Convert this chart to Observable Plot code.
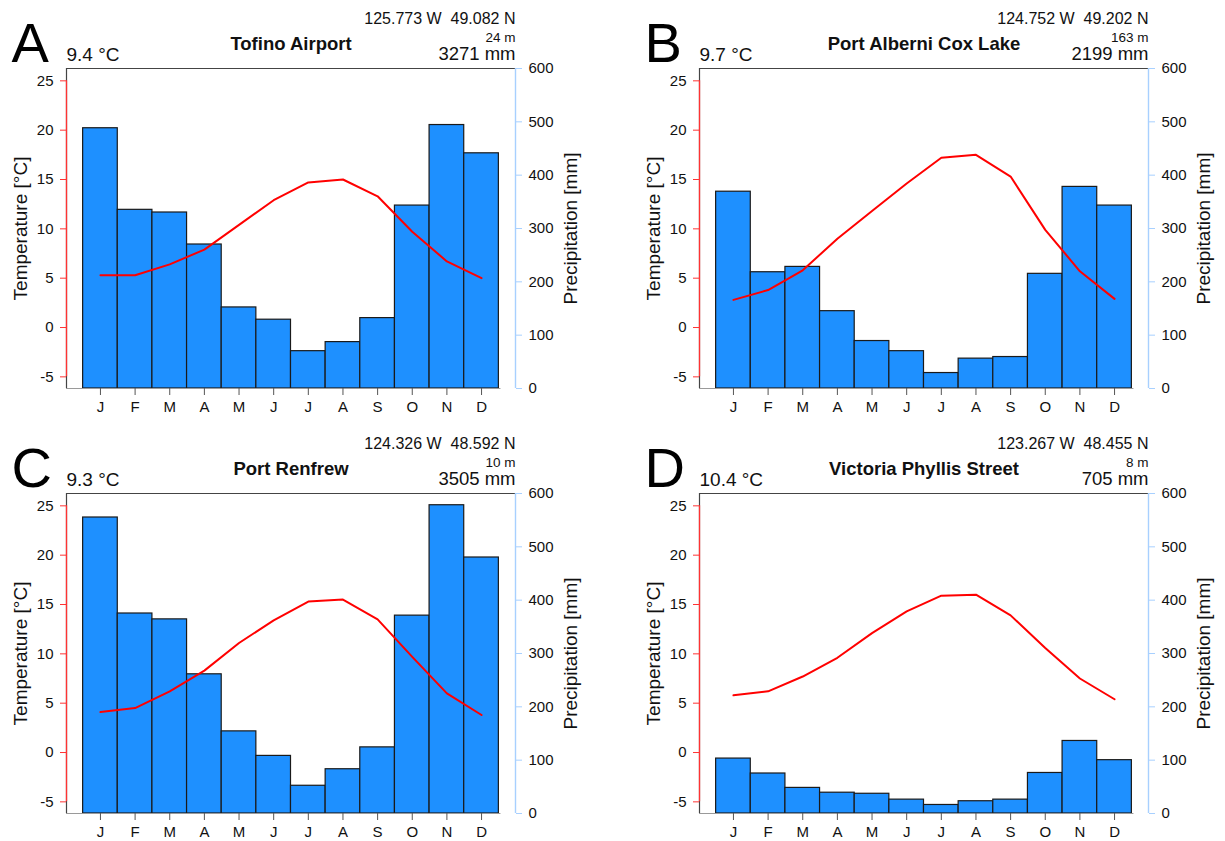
<!DOCTYPE html>
<html>
<head>
<meta charset="utf-8">
<script src="https://cdn.jsdelivr.net/npm/d3@7"></script>
<script src="https://cdn.jsdelivr.net/npm/@observablehq/plot@0.6"></script>
<style>
  body { margin: 0; background: #fff; }
  #fig { position: relative; width: 1225px; height: 841px; overflow: hidden; background: #fff; }
  #fig svg { position: absolute; }
</style>
</head>
<body>
<div id="fig"></div>
<script>
// Monthly climate normals for four Vancouver Island stations
const months = ["J", "F", "M", "A", "M", "J", "J", "A", "S", "O", "N", "D"];

const tofinoPrecip   = [488, 335, 330, 270, 152, 129, 70, 87, 132, 343, 494, 441];
const tofinoTemp     = [5.3, 5.3, 6.4, 7.9, 10.4, 12.9, 14.7, 15.0, 13.3, 9.7, 6.7, 5.0];

const alberniPrecip  = [369, 218, 228, 145, 89, 70, 29, 56, 59, 215, 378, 343];
const alberniTemp    = [2.8, 3.8, 5.8, 9.0, 11.8, 14.6, 17.2, 17.5, 15.3, 9.9, 5.7, 2.9];

const renfrewPrecip  = [555, 375, 364, 261, 154, 108, 52, 83, 124, 371, 578, 480];
const renfrewTemp    = [4.1, 4.5, 6.2, 8.3, 11.1, 13.4, 15.3, 15.5, 13.5, 9.7, 6.0, 3.8];

const victoriaPrecip = [103, 75, 48, 39, 37, 26, 16, 23, 26, 76, 136, 100];
const victoriaTemp   = [5.8, 6.2, 7.7, 9.6, 12.1, 14.3, 15.9, 16.0, 13.9, 10.6, 7.5, 5.4];

const panelLetters = ["A", "B", "C", "D"];
const stationNames = ["Tofino Airport", "Port Alberni Cox Lake", "Port Renfrew", "Victoria Phyllis Street"];
const stationCoords = ["125.773 W\u00a0\u00a049.082 N", "124.752 W\u00a0\u00a049.202 N", "124.326 W\u00a0\u00a048.592 N", "123.267 W\u00a0\u00a048.455 N"];
const stationElevations = ["24 m", "163 m", "10 m", "8 m"];
const precipSeries = [tofinoPrecip, alberniPrecip, renfrewPrecip, victoriaPrecip];
const tempSeries = [tofinoTemp, alberniTemp, renfrewTemp, victoriaTemp];

const tempTicks = [-5, 0, 5, 10, 15, 20, 25];
const precipTicks = [0, 100, 200, 300, 400, 500, 600];

// Temperature is drawn on the precipitation scale through a fixed linear mapping
const tempDomain = [-6.18, 26.25];
const precipDomain = [0, 600];
const tempToPrecip = d3.scaleLinear(tempDomain, precipDomain);
const xDomain = [-0.48, 12.48];

const FONT = "'Liberation Sans', Arial, Helvetica, sans-serif";
const BAR_FILL = "#1E90FF";
const AXIS_BLUE = "#a8d0ff";
const INK = "#111";

function climatePanel(k) {
  const precip = precipSeries[k];
  const temp = tempSeries[k];
  const meanLabel = `${d3.mean(temp).toFixed(1)} °C`;
  const totalLabel = `${d3.sum(precip)} mm`;
  return Plot.plot({
    width: 592,
    height: 416,
    marginLeft: 66,
    marginRight: 77,
    marginTop: 68,
    marginBottom: 28,
    style: { fontFamily: FONT, background: "transparent", color: INK, overflow: "visible" },
    x: { type: "linear", domain: xDomain },
    y: { domain: precipDomain },
    marks: [
      // monthly precipitation bars
      Plot.rect(precip, {
        x1: (d, i) => i,
        x2: (d, i) => i + 1,
        y1: () => 0,
        y2: d => d,
        fill: BAR_FILL,
        stroke: "#1a1a1a",
        strokeWidth: 1.2
      }),
      // monthly mean temperature
      Plot.line(temp, {
        x: (d, i) => i + 0.5,
        y: d => tempToPrecip(d),
        stroke: "#ff0000",
        strokeWidth: 2
      }),
      // plot box
      Plot.ruleY([precipDomain[1]], { stroke: "#444", strokeWidth: 1.2 }),
      Plot.ruleX([xDomain[0]], { stroke: "#444", strokeWidth: 1.2 }),
      Plot.ruleY([0], { x1: xDomain[0], x2: 12.06, stroke: "#9a9a9a", strokeWidth: 1.2 }),
      Plot.ruleX([xDomain[0]], {
        y1: tempToPrecip(tempTicks[0]),
        y2: tempToPrecip(tempTicks[tempTicks.length - 1]),
        stroke: "#ff3333",
        strokeWidth: 1.3
      }),
      Plot.ruleX([xDomain[1]], { stroke: AXIS_BLUE, strokeWidth: 1.4 }),
      // axes
      Plot.axisY(tempTicks.map(t => tempToPrecip(t)), {
        anchor: "left",
        tickSize: 6,
        tickPadding: 7,
        stroke: "#ff3333",
        fill: INK,
        fontSize: 15,
        label: null,
        tickFormat: d => String(Math.round(tempToPrecip.invert(d)))
      }),
      Plot.axisY(precipTicks, {
        anchor: "right",
        tickSize: 6,
        tickPadding: 7,
        stroke: AXIS_BLUE,
        fill: INK,
        fontSize: 15,
        label: null,
        tickFormat: d => String(d)
      }),
      Plot.axisX(d3.range(12).map(i => i + 0.5), {
        anchor: "bottom",
        tickSize: 7,
        tickPadding: 6,
        stroke: "#555",
        fill: INK,
        fontSize: 15,
        label: null,
        tickFormat: d => months[Math.floor(d)]
      }),
      // axis titles
      Plot.text(["Temperature [°C]"], {
        frameAnchor: "left", dx: -46, rotate: -90,
        textAnchor: "middle", lineAnchor: "middle", fontSize: 19, fill: INK
      }),
      Plot.text(["Precipitation [mm]"], {
        frameAnchor: "right", dx: 55, rotate: -90,
        textAnchor: "middle", lineAnchor: "middle", fontSize: 19, fill: INK
      }),
      // header
      Plot.text([panelLetters[k]], {
        frameAnchor: "top-left", dx: -55, dy: -46.3,
        textAnchor: "start", lineAnchor: "top", fontSize: 56, fill: "#000"
      }),
      Plot.text([meanLabel], {
        frameAnchor: "top-left", dy: -21.3,
        textAnchor: "start", lineAnchor: "top", fontSize: 19, fill: INK
      }),
      Plot.text([stationNames[k]], {
        frameAnchor: "top", dy: -32,
        textAnchor: "middle", lineAnchor: "top", fontSize: 18.5, fontWeight: "bold", fill: INK
      }),
      Plot.text([totalLabel], {
        frameAnchor: "top-right", dy: -21.3,
        textAnchor: "end", lineAnchor: "top", fontSize: 18.5, fill: INK
      }),
      Plot.text([stationElevations[k]], {
        frameAnchor: "top-right", dy: -36.3,
        textAnchor: "end", lineAnchor: "top", fontSize: 13.5, fill: INK
      }),
      Plot.text([stationCoords[k]], {
        frameAnchor: "top-right", dy: -56.3,
        textAnchor: "end", lineAnchor: "top", fontSize: 16, fill: INK
      })
    ]
  });
}

const fig = document.getElementById("fig");
const panelOrigins = [[0, 0], [633, 0], [0, 425], [633, 425]];
panelOrigins.forEach(([left, top], k) => {
  const svg = climatePanel(k);
  svg.style.left = left + "px";
  svg.style.top = top + "px";
  fig.appendChild(svg);
});
</script>
</body>
</html>
